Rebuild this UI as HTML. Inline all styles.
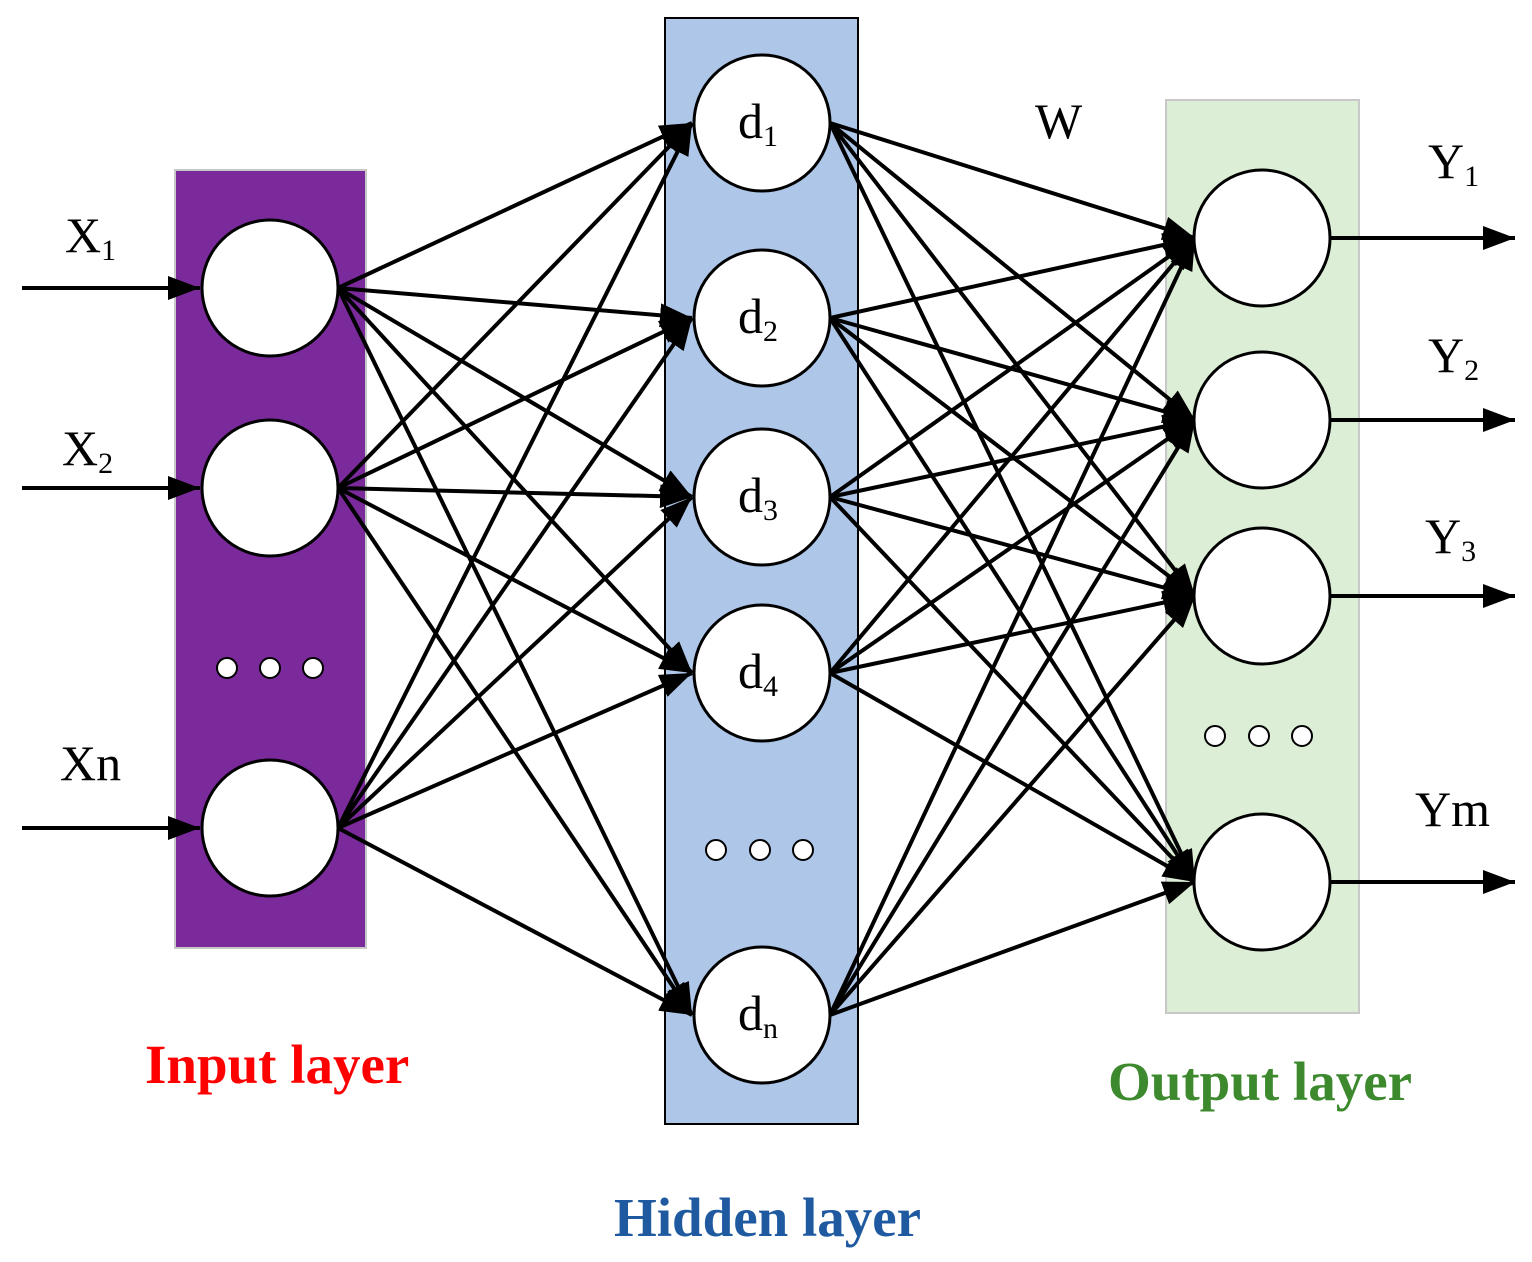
<!DOCTYPE html>
<html><head><style>body{margin:0;background:#fff}svg{display:block}</style></head><body>
<svg width="1532" height="1262" viewBox="0 0 1532 1262" xmlns="http://www.w3.org/2000/svg" font-family="Liberation Serif, serif">
<defs>
<marker id="h" viewBox="0 0 10 10" refX="10" refY="5" markerWidth="32" markerHeight="24" markerUnits="userSpaceOnUse" orient="auto" preserveAspectRatio="none"><path d="M0,0 L10,5 L0,10 Z" fill="#000"/></marker>
</defs>
<rect x="175" y="170" width="191" height="778" fill="#7B2A9B" stroke="#c8c8c8" stroke-width="2"/>
<rect x="665" y="18" width="193" height="1106" fill="#AEC7E8" stroke="#000" stroke-width="2"/>
<rect x="1166" y="100" width="193" height="913" fill="#DDEED6" stroke="#c8c8c8" stroke-width="2"/>
<g stroke="#000" stroke-width="4" marker-end="url(#h)" fill="none">
<line x1="22" y1="288" x2="200" y2="288"/>
<line x1="22" y1="488" x2="200" y2="488"/>
<line x1="22" y1="828" x2="200" y2="828"/>
<line x1="1330" y1="238" x2="1515" y2="238"/>
<line x1="1330" y1="420" x2="1515" y2="420"/>
<line x1="1330" y1="596" x2="1515" y2="596"/>
<line x1="1330" y1="882" x2="1515" y2="882"/>
</g>
<g stroke="#000" stroke-width="4" marker-end="url(#h)" fill="none" id="e"></g>
<script>
var g=document.getElementById('e'),ns='http://www.w3.org/2000/svg';
var I=[288,488,828],H=[123,318,497,673,1015],O=[238,420,596,882];
function L(x1,y1,x2,y2){var l=document.createElementNS(ns,'line');l.setAttribute('x1',x1);l.setAttribute('y1',y1);l.setAttribute('x2',x2);l.setAttribute('y2',y2);g.appendChild(l);}
I.forEach(function(a){H.forEach(function(b){L(338,a,692,b);});});
H.forEach(function(a){O.forEach(function(b){L(830,a,1195,b);});});
</script>
<g fill="#fff" stroke="#000" stroke-width="3">
<circle cx="270" cy="288" r="68"/><circle cx="270" cy="488" r="68"/><circle cx="270" cy="828" r="68"/>
<circle cx="762" cy="123" r="68"/><circle cx="762" cy="318" r="68"/><circle cx="762" cy="497" r="68"/><circle cx="762" cy="673" r="68"/><circle cx="762" cy="1015" r="68"/>
<circle cx="1262" cy="238" r="68"/><circle cx="1262" cy="420" r="68"/><circle cx="1262" cy="596" r="68"/><circle cx="1262" cy="882" r="68"/>
</g>
<g fill="#fff" stroke="#000" stroke-width="2">
<circle cx="227" cy="668" r="10"/><circle cx="270" cy="668" r="10"/><circle cx="313" cy="668" r="10"/>
<circle cx="716" cy="850" r="10"/><circle cx="760" cy="850" r="10"/><circle cx="803" cy="850" r="10"/>
<circle cx="1215" cy="736" r="10"/><circle cx="1259" cy="736" r="10"/><circle cx="1302" cy="736" r="10"/>
</g>
<g font-size="50" fill="#000">
<text x="65" y="252">X<tspan font-size="30" dy="8">1</tspan></text>
<text x="62" y="465">X<tspan font-size="30" dy="8">2</tspan></text>
<text x="60" y="780">Xn</text>
<text x="1428" y="178">Y<tspan font-size="30" dy="8">1</tspan></text>
<text x="1428" y="372">Y<tspan font-size="30" dy="8">2</tspan></text>
<text x="1425" y="553">Y<tspan font-size="30" dy="8">3</tspan></text>
<text x="1415" y="826">Ym</text>
<text x="1035" y="138">W</text>
<text x="738" y="138">d<tspan font-size="30" dy="8">1</tspan></text>
<text x="738" y="333">d<tspan font-size="30" dy="8">2</tspan></text>
<text x="738" y="512">d<tspan font-size="30" dy="8">3</tspan></text>
<text x="738" y="688">d<tspan font-size="30" dy="8">4</tspan></text>
<text x="738" y="1030">d<tspan font-size="30" dy="8">n</tspan></text>
</g>
<g font-size="55" font-weight="bold">
<text x="145" y="1083" fill="#FF0000">Input layer</text>
<text x="614" y="1236" fill="#1F5AA0">Hidden layer</text>
<text x="1108" y="1100" fill="#3D8A2E">Output layer</text>
</g>
</svg>
</body></html>
